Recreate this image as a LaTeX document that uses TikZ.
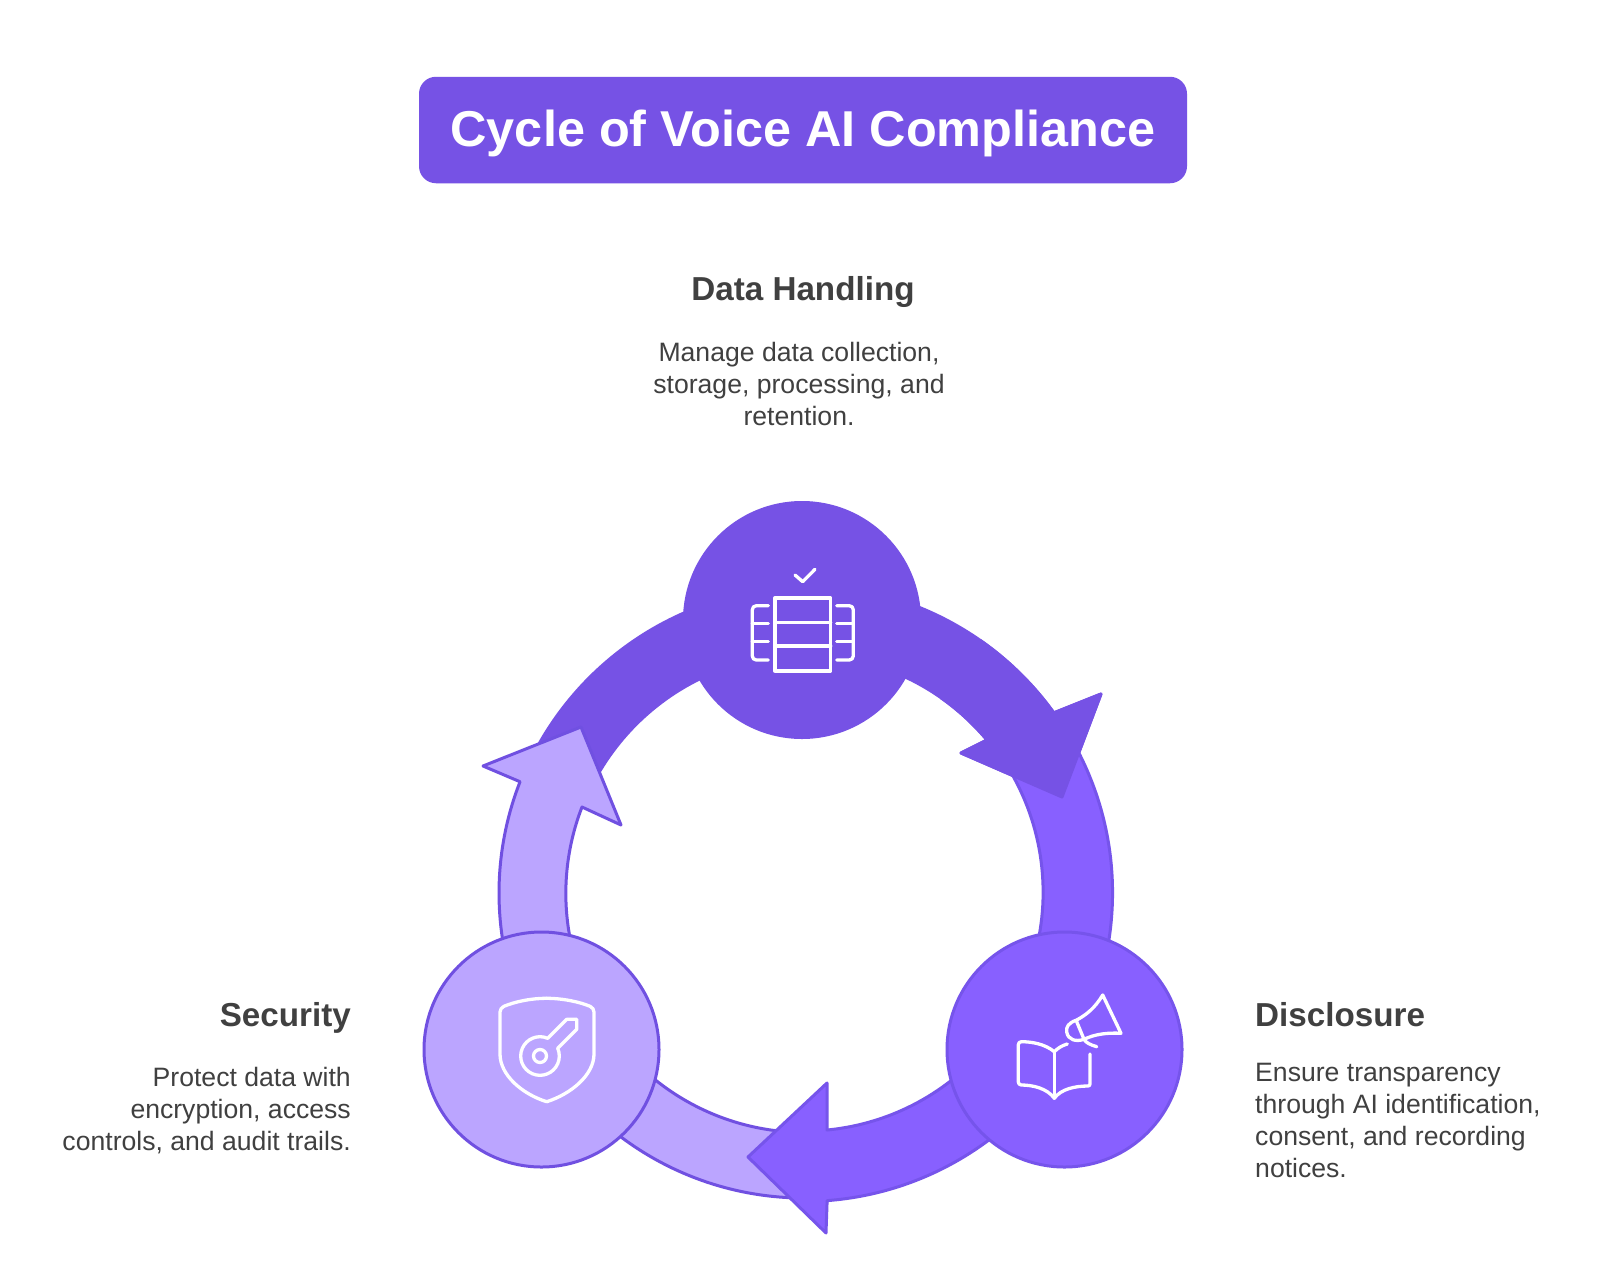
\documentclass[tikz,border=0pt]{standalone}
\usepackage{fontspec}
\setmainfont{Liberation Sans}
\usetikzlibrary{calc}
\definecolor{darkviolet}{RGB}{118,82,229}
\definecolor{midviolet}{RGB}{136,96,255}
\definecolor{lightviolet}{RGB}{187,165,255}
\definecolor{edgeviolet}{RGB}{112,80,225}
\definecolor{midedge}{RGB}{118,84,235}
\definecolor{textgray}{RGB}{64,64,64}

\begin{document}
\begin{tikzpicture}[
x=1pt, y=-1pt,
band/.style={line width=3pt, line join=round},
stepcircle/.style={circle, minimum size=235pt, inner sep=0pt, line width=3pt},
heading/.style={font=\fontsize{33.2}{38}\selectfont\bfseries, color=textgray, inner sep=0pt},
bodytext/.style={font=\fontsize{26.6}{32}\selectfont, color=textgray, inner sep=0pt},
icon/.style={draw=white, line width=3.3pt, line cap=round, line join=round}
]

\useasboundingbox (0,0) rectangle (1600,1282);
\fill[white] (0,0) rectangle (1600,1282);

\node[fill=darkviolet, rounded corners=17pt, minimum width=768pt, minimum height=106.5pt, inner sep=0pt,
  text=white, text height=43pt, text depth=10.6pt, font=\fontsize{50.4}{60}\selectfont\bfseries] (title) at (803,130) {Cycle of Voice AI Compliance};

\coordinate (ring) at (804,893);
\coordinate (leftring) at (808,896);

% ring arrows, last head goes over the tail of the next band
\draw[band, fill=darkviolet, draw=darkviolet] ($(leftring)+(-153:309)$) arc[start angle=-153, end angle=-100, radius=309]
  -- ($(ring)+(-80:308)$) arc[start angle=-80, end angle=-35.8, radius=308]
  -- (1101,694) -- (1062,797) -- (961,753) -- (987,740)
  arc[start angle=-39.9, end angle=-155, radius=238] -- cycle;
\draw[band, fill=lightviolet, draw=edgeviolet] ($(ring)+(90:305)$) arc[start angle=90, end angle=201.4, radius=305]
  -- (483,766) -- (581,727) -- (621,825) -- (582,807)
  arc[start angle=201.2, end angle=90, radius=239] -- cycle;
\draw[band, fill=midviolet, draw=midedge] ($(ring)+(-33:308.5)$) arc[start angle=-33, end angle=85.7, radius=308.5]
  -- (826,1233) -- (748,1157) -- (827,1083) -- (827,1130)
  arc[start angle=84.5, end angle=-33, radius=239] -- cycle;
\draw[band, fill=darkviolet, draw=darkviolet] ($(ring)+(-55:308)$) arc[start angle=-55, end angle=-35.8, radius=308]
  -- (1101,694) -- (1062,797) -- (961,753) -- (987,740)
  arc[start angle=-39.9, end angle=-55, radius=238] -- cycle;

\node[stepcircle, fill=darkviolet, draw=darkviolet] (data) at (802,620) {};
\node[stepcircle, fill=midviolet, draw=midedge] (disclosure) at (1064.5,1049.5) {};
\node[stepcircle, fill=lightviolet, draw=edgeviolet] (security) at (541.5,1049.5) {};

% data icon
\draw[icon] (795,575) -- (802.7,581.7) -- (815,569.3);
\draw[icon] (775,598) rectangle (830.7,671);
\draw[icon] (775,622.3) -- (830.7,622.3) (775,646) -- (830.7,646);
\draw[icon, rounded corners=4pt] (768.3,605.7) -- (752.3,605.7) -- (752.3,660) -- (768.3,660);
\draw[icon] (752.3,623.3) -- (768.3,623.3) (752.3,641.7) -- (768.3,641.7);
\draw[icon, rounded corners=4pt] (836.7,605.7) -- (853.3,605.7) -- (853.3,660) -- (836.7,660);
\draw[icon] (836.7,623.3) -- (853.3,623.3) (836.7,641.7) -- (853.3,641.7);

% book and megaphone icon
\draw[icon, rounded corners=3pt] (1054.3,1051.7) .. controls (1045,1044) and (1032,1041.7) .. (1018.3,1041.7)
  -- (1018.3,1085) .. controls (1032,1085) and (1047,1088) .. (1054.3,1098.3);
\draw[icon] (1054.3,1051.7) -- (1054.3,1098.3);
\draw[icon] (1054.3,1051.7) .. controls (1058,1048) and (1062,1045.5) .. (1067.3,1044);
\draw[icon, rounded corners=2pt] (1090,1054) -- (1090,1086) .. controls (1075,1086) and (1061,1089) .. (1054.3,1098.3);
\draw[icon] (1102.7,995) .. controls (1095,1008) and (1086,1015) .. (1076.7,1020)
  .. controls (1068,1023) and (1066,1027) .. (1066.7,1032) .. controls (1068,1040) and (1076,1042) .. (1084,1039.3)
  .. controls (1095,1034) and (1108,1032.5) .. (1121,1033.3) -- cycle;
\draw[icon] (1076.7,1021.7) -- (1084,1039.3) .. controls (1086,1043) and (1091,1045) .. (1096.7,1046.7);

% shield and key icon
\draw[icon, rounded corners=4pt] (546.7,998.3) .. controls (530,998.3) and (514,1002) .. (500,1008) -- (500,1050)
  .. controls (500,1075) and (522,1094) .. (546.7,1101.7);
\draw[icon, rounded corners=4pt] (546.7,998.3) .. controls (563,998.3) and (580,1002) .. (594,1008) -- (594,1050)
  .. controls (594,1075) and (571,1094) .. (546.7,1101.7);
\draw[icon] (547.7,1038.3) arc[start angle=-66.5, end angle=-383.5, radius=19.3]
  -- (576.7,1029.3) -- (576.7,1019.3) -- (566.7,1019.3) -- cycle;
\draw[icon] (540,1056) circle[radius=6.5];

% labels
\node[heading, anchor=base] (dataHead) at (803,300) {Data Handling};
\node[bodytext, align=center] (dataText) at (799,384) {Manage data collection,\\storage, processing, and\\retention.};

\node[heading, anchor=base east] (securityHead) at (351,1026) {Security};
\node[bodytext, align=right, anchor=east] (securityText) at (351,1111) {Protect data with\\encryption, access\\controls, and audit trails.};

\node[heading, anchor=base west] (disclosureHead) at (1255,1026) {Disclosure};
\node[bodytext, align=left, anchor=west] (disclosureText) at (1255,1120) {Ensure transparency\\through AI identification,\\consent, and recording\\notices.};

\end{tikzpicture}
\end{document}
